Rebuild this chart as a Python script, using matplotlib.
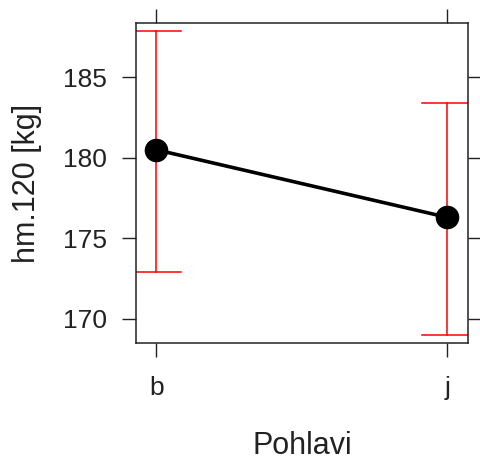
import matplotlib
matplotlib.use("Agg")
import matplotlib.pyplot as plt

groups = ["b", "j"]
means = [180.5, 176.3]
lower = [172.9, 169.0]
upper = [187.9, 183.4]

plt.rcParams["font.family"] = ["Liberation Sans", "DejaVu Sans"]

fig = plt.figure(figsize=(4.81, 4.62), dpi=100)
ax = fig.add_axes([0.2827, 0.2576, 0.690, 0.6926])

x = list(range(1, len(groups) + 1))
cap = 0.086
for xi, lo, hi in zip(x, lower, upper):
    ax.plot([xi, xi], [lo, hi], color="red", lw=1.1, zorder=2)
    ax.plot([xi - cap, xi + cap], [lo, lo], color="red", lw=1.1, zorder=2)
    ax.plot([xi - cap, xi + cap], [hi, hi], color="red", lw=1.1, zorder=2)

ax.plot(x, means, color="black", lw=2.6, marker="o", markersize=16, zorder=3)

ax.set_xlim(0.93, 2.07)
ax.set_ylim(168.5, 188.375)
ax.set_xticks(x)
ax.set_xticklabels(groups)
ax.set_yticks([170, 175, 180, 185])

ax.tick_params(axis="both", direction="out", length=10, width=1.0, labelsize=19,
               pad=11, top=True, right=True, labeltop=False, labelright=False,
               colors="#222222")
ax.tick_params(axis="x", pad=14)
for s in ax.spines.values():
    s.set_linewidth(1.1)
    s.set_color("#222222")

ax.set_xlabel("Pohlavi", fontsize=22, labelpad=22, color="#222222")
ax.set_ylabel("hm.120 [kg]", fontsize=22, labelpad=15, color="#222222")

fig.savefig("out.png", dpi=100)
